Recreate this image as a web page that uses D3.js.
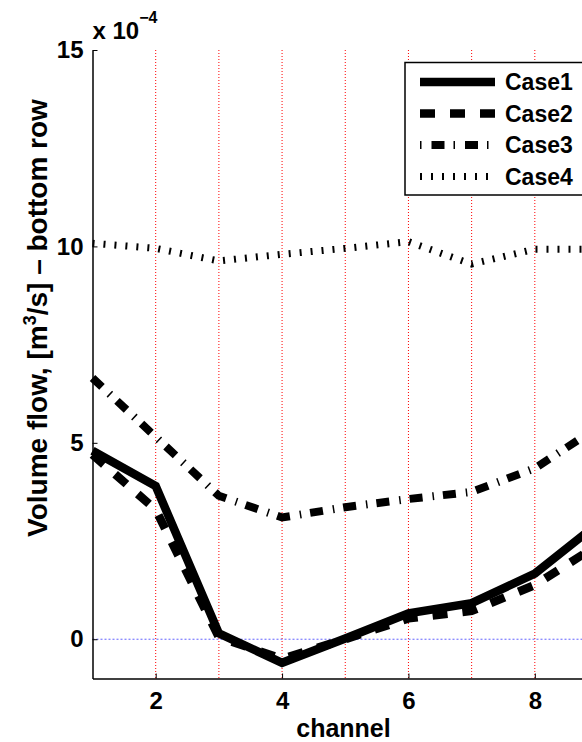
<!DOCTYPE html>
<html>
<head>
<meta charset="utf-8">
<script src="https://cdn.jsdelivr.net/npm/d3@7"></script>
<style>
  html, body { margin: 0; padding: 0; background: #fff; }
  svg { display: block; font-family: "Liberation Sans", Arial, sans-serif; font-weight: bold; }
</style>
</head>
<body>
<svg id="chart" width="582" height="742"></svg>
<script>
// channels along the x axis
const channels = [1, 2, 3, 4, 5, 6, 7, 8, 9];
// volume flow per case, in units of 1e-4 m^3/s
const case1 = [4.8, 3.9, 0.15, -0.6, 0.02, 0.66, 0.92, 1.67, 2.95];
const case2 = [4.7, 3.3, 0.05, -0.5, 0.0, 0.53, 0.72, 1.38, 2.4];
const case3 = [6.65, 5.15, 3.65, 3.1, 3.36, 3.57, 3.75, 4.35, 5.4];
const case4 = [10.08, 9.95, 9.63, 9.8, 9.95, 10.12, 9.55, 9.93, 9.93];
const caseNames = ["Case1", "Case2", "Case3", "Case4"];
const xTicks = [2, 4, 6, 8];
const yTicks = [0, 5, 10, 15];
const boundaries = [2, 3, 4, 5, 6, 7, 8, 9];

const svg = d3.select("#chart");

const x = d3.scaleLinear().domain([1, 9]).range([92.5, 598]);
const y = d3.scaleLinear().domain([-1, 15]).range([678.5, 50]);

// red dotted channel boundaries
svg.append("g").selectAll("line")
    .data(boundaries)
    .enter().append("line")
    .attr("x1", d => x(d)).attr("x2", d => x(d))
    .attr("y1", y(15)).attr("y2", y(-1))
    .attr("stroke", "#ff0000")
    .attr("stroke-width", 1)
    .attr("stroke-dasharray", "1,2");

// blue dotted zero line
svg.append("line")
    .attr("x1", x(1)).attr("x2", x(9))
    .attr("y1", y(0)).attr("y2", y(0))
    .attr("stroke", "#6060ff")
    .attr("stroke-width", 1)
    .attr("stroke-dasharray", "2,2");

// series
const styles = [
    { dash: null, width: 8.5 },
    { dash: "15,15", width: 8.5 },
    { dash: "13,10,1.5,9", width: 8 },
    { dash: "2,9", width: 7 }
];
const series = [case1, case2, case3, case4];

const line = d3.line()
    .x((d, i) => x(channels[i]))
    .y(d => y(d));

series.forEach((s, k) => {
    svg.append("path")
        .datum(s)
        .attr("d", line)
        .attr("fill", "none")
        .attr("stroke", "#000")
        .attr("stroke-width", styles[k].width)
        .attr("stroke-linejoin", "miter")
        .attr("stroke-linecap", "butt")
        .attr("stroke-dasharray", styles[k].dash);
});

// axes (MATLAB style, ticks inward, no box)
const xAxis = svg.append("g")
    .attr("transform", `translate(0,${y(-1)})`)
    .call(d3.axisBottom(x).tickValues(xTicks).tickSize(-5).tickPadding(13).tickSizeOuter(0));
const yAxis = svg.append("g")
    .attr("transform", `translate(${x(1)},0)`)
    .call(d3.axisLeft(y).tickValues(yTicks).tickSize(-5).tickPadding(9).tickSizeOuter(0));

[xAxis, yAxis].forEach(a => {
    a.select(".domain").attr("stroke", "#000").attr("stroke-width", 1.5);
    a.selectAll(".tick line").attr("stroke", "#000").attr("stroke-width", 1);
    a.selectAll(".tick text")
        .attr("fill", "#000")
        .attr("font-size", "24px")
        .attr("font-weight", "bold")
        .attr("font-family", "Liberation Sans, Arial, sans-serif");
});
xAxis.selectAll(".tick text").attr("dy", "0.71em");

// exponent label
const expo = svg.append("text")
    .attr("x", x(1))
    .attr("y", 39)
    .attr("font-size", "24px");
expo.append("tspan").text("x 10");
expo.append("tspan").attr("font-size", "16px").attr("dy", -16).text("\u22124");

// axis labels
svg.append("text")
    .attr("x", 343.5)
    .attr("y", 737)
    .attr("text-anchor", "middle")
    .attr("font-size", "25px")
    .text("channel");

const yl = svg.append("text")
    .attr("transform", "translate(47,318) rotate(-90)")
    .attr("text-anchor", "middle")
    .attr("font-size", "28px");
yl.append("tspan").text("Volume flow, [m");
yl.append("tspan").attr("font-size", "18px").attr("dy", -11).text("3");
yl.append("tspan").attr("dy", 11).text("/s] \u2013 bottom row");

// legend
const legend = svg.append("g");
legend.append("rect")
    .attr("x", 405).attr("y", 62.5)
    .attr("width", 200).attr("height", 132.5)
    .attr("fill", "#fff")
    .attr("stroke", "#000")
    .attr("stroke-width", 1.5);

const legendDash = [null, "15,15", "1.5,10,13,9", "2,9"];
caseNames.forEach((name, i) => {
    const ly = 82 + i * 31.5;
    legend.append("line")
        .attr("x1", 420).attr("x2", 495)
        .attr("y1", ly).attr("y2", ly)
        .attr("stroke", "#000")
        .attr("stroke-width", styles[i].width)
        .attr("stroke-dasharray", legendDash[i]);
    legend.append("text")
        .attr("x", 505)
        .attr("y", ly)
        .attr("dy", "0.36em")
        .attr("font-size", "23px")
        .text(name);
});
</script>
</body>
</html>
